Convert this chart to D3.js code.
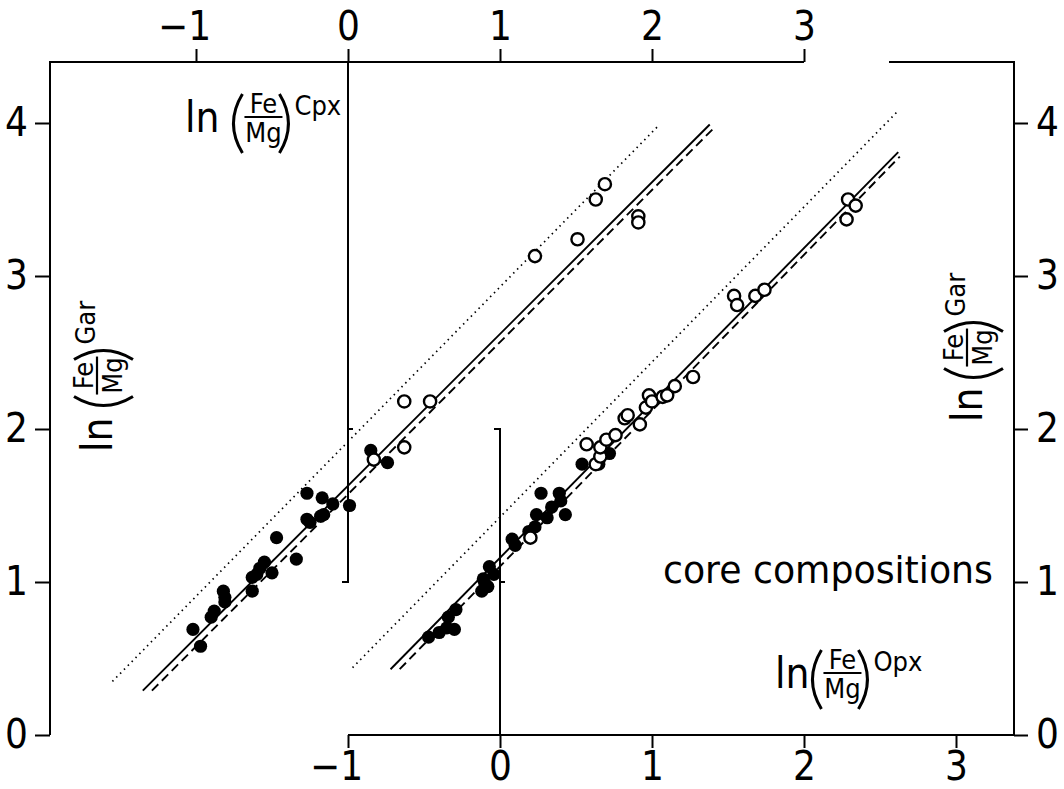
<!DOCTYPE html>
<html>
<head>
<meta charset="utf-8">
<script src="https://cdn.jsdelivr.net/npm/d3@7.9.0/dist/d3.min.js"></script>
<style>
  body { margin: 0; background: #fff; }
  svg { display: block; }
  text { font-family: "DejaVu Sans Condensed", "Liberation Sans Narrow", "DejaVu Sans", sans-serif; fill: #000; }
</style>
</head>
<body>
<svg id="chart" width="1064" height="789"></svg>
<script>
const yTicks = [0, 1, 2, 3, 4];
const cpxTicks = [-1, 0, 1, 2, 3];
const opxTicks = [-1, 0, 1, 2, 3];

// Cpx-garnet pairs (x read on the top axis)
const cpxFilled = [[-0.27,1.58],[-0.17,1.55],[-0.10,1.51],[0.01,1.50],[-0.27,1.41],[-0.25,1.39],[-0.18,1.43],
  [-0.16,1.44],[-0.47,1.29],[-0.34,1.15],[-0.55,1.13],[-0.58,1.09],[-0.60,1.05],[-0.63,1.03],[-0.50,1.06],
  [-0.63,0.94],[-0.82,0.94],[-0.81,0.90],[-0.81,0.87],[-0.88,0.81],[-0.90,0.77],[-1.02,0.69],[-0.97,0.58],
  [0.15,1.86],[0.26,1.78]];
const cpxOpen = [[0.17,1.80],[0.37,2.18],[0.54,2.18],[0.37,1.88],[1.23,3.13],[1.51,3.24],[1.63,3.50],
  [1.69,3.60],[1.91,3.39],[1.91,3.35]];

// Opx-garnet pairs (x read on the bottom axis)
const opxFilled = [[0.27,1.58],[0.39,1.58],[0.40,1.53],[0.34,1.49],[0.24,1.44],[0.31,1.42],[0.43,1.44],
  [0.23,1.36],[0.19,1.33],[0.08,1.28],[0.10,1.24],[-0.07,1.10],[-0.04,1.05],[-0.11,1.02],[-0.10,0.99],
  [-0.08,0.97],[-0.12,0.94],[-0.29,0.82],[-0.34,0.77],[-0.35,0.70],[-0.30,0.69],[-0.40,0.67],[-0.47,0.64],
  [0.54,1.77],[0.65,1.77],[0.72,1.84]];
const opxOpen = [[0.20,1.29],[0.63,1.77],[0.66,1.82],[0.57,1.90],[0.66,1.88],[0.70,1.93],[0.76,1.96],
  [0.82,2.07],[0.84,2.09],[0.92,2.03],[0.96,2.14],[0.98,2.22],[1.00,2.18],[1.07,2.21],[1.10,2.22],
  [1.15,2.28],[1.27,2.34],[1.54,2.87],[1.56,2.81],[1.68,2.87],[1.74,2.91],[2.29,3.50],[2.34,3.46],[2.28,3.37]];

// fitted lines, start and end points
const cpxDotted = [[-1.55,0.35],[2.05,3.99]];
const cpxSolid = [[-1.35,0.29],[2.38,3.99]];
const cpxDashed = [[-1.29,0.29],[2.42,3.98]];
const opxDotted = [[-0.97,0.44],[2.61,4.07]];
const opxSolid = [[-0.72,0.43],[2.62,3.81]];
const opxDashed = [[-0.66,0.43],[2.63,3.78]];

const svg = d3.select('#chart');
const leftX = 50, rightX = 1014, topY = 62, bottomY = 735;

const y = d3.scaleLinear().domain([0, 4]).range([735, 123]);
const xCpx = d3.scaleLinear().domain([-1, 3]).range([196, 804]);
const xOpx = d3.scaleLinear().domain([-1, 3]).range([348, 956]);

const frame = svg.append('g').attr('stroke', '#000').attr('stroke-width', 2).attr('fill', 'none');
// outer frame pieces
frame.append('path').attr('d', `M${leftX},${bottomY} V${topY} H${xCpx(3)}`);
frame.append('path').attr('d', `M889,${topY} H${rightX} V${bottomY} H${xOpx(-1)}`);
// inner zero lines
frame.append('path').attr('d', `M${xCpx(0)},${topY} V${y(1)} h-6 M${xCpx(0)},${y(2)} h5`);
frame.append('path').attr('d', `M${xOpx(0)},${bottomY} V${y(2)} h-6 M${xOpx(0)},${y(1)} h5`);

const fmt = d3.format('d');
function styleAxis(g) {
  g.select('.domain').remove();
  g.selectAll('.tick line').attr('stroke', '#000').attr('stroke-width', 2);
  g.selectAll('.tick text').attr('font-size', 40).attr('fill', '#000');
  g.selectAll('.tick text').filter(d => d < 0).attr('dx', '-0.3em');
}

svg.append('g').attr('transform', `translate(0,${topY})`)
  .call(d3.axisTop(xCpx).tickValues(cpxTicks).tickFormat(fmt).tickSize(13).tickPadding(9))
  .call(styleAxis);
svg.append('g').attr('transform', `translate(0,${bottomY})`)
  .call(d3.axisBottom(xOpx).tickValues(opxTicks).tickFormat(fmt).tickSize(13).tickPadding(8))
  .call(styleAxis)
  .selectAll('.tick text').attr('y', 45).attr('dy', 0);
svg.append('g').attr('transform', `translate(${leftX},0)`)
  .call(d3.axisLeft(y).tickValues(yTicks).tickFormat(fmt).tickSize(15).tickPadding(7))
  .call(styleAxis);
svg.append('g').attr('transform', `translate(${rightX},0)`)
  .call(d3.axisRight(y).tickValues(yTicks).tickFormat(fmt).tickSize(14).tickPadding(8))
  .call(styleAxis);

// regression lines
function drawLine(pts, xs, dash, w) {
  svg.append('path')
    .datum(pts)
    .attr('d', d3.line().x(d => xs(d[0])).y(d => y(d[1])))
    .attr('fill', 'none').attr('stroke', '#000')
    .attr('stroke-width', w)
    .attr('stroke-dasharray', dash);
}
drawLine(cpxDotted, xCpx, '1.5,4', 1.7);
drawLine(cpxSolid, xCpx, null, 1.9);
drawLine(cpxDashed, xCpx, '9,5', 1.9);
drawLine(opxDotted, xOpx, '1.5,4', 1.7);
drawLine(opxSolid, xOpx, null, 1.9);
drawLine(opxDashed, xOpx, '9,5', 1.9);

// points
function drawPoints(pts, xs, open) {
  svg.append('g').selectAll('circle')
    .data(pts)
    .join('circle')
    .attr('cx', d => xs(d[0]))
    .attr('cy', d => y(d[1]))
    .attr('r', open ? 6.1 : 6.6)
    .attr('fill', open ? '#fff' : '#000')
    .attr('stroke', '#000')
    .attr('stroke-width', open ? 2.4 : 0);
}
drawPoints(cpxFilled, xCpx, false);
drawPoints(opxFilled, xOpx, false);
drawPoints(cpxOpen, xCpx, true);
drawPoints(opxOpen, xOpx, true);

// ln(Fe/Mg)^phase labels
function lnLabel(transform, sup, gap) {
  const g = svg.append('g').attr('transform', transform);
  const ln = g.append('text').attr('font-size', 42).text('ln');
  const p = ln.node().getComputedTextLength() + gap;
  g.append('path')
    .attr('d', `M${p + 9},-38 Q${p - 9},-8.5 ${p + 9},21`)
    .attr('fill', 'none').attr('stroke', '#000').attr('stroke-width', 3);
  g.append('text').attr('x', p + 30).attr('y', -19).attr('font-size', 27)
    .attr('text-anchor', 'middle').text('Fe');
  g.append('line').attr('x1', p + 11).attr('x2', p + 49).attr('y1', -15).attr('y2', -15)
    .attr('stroke', '#000').attr('stroke-width', 2.2);
  g.append('text').attr('x', p + 30).attr('y', 10).attr('font-size', 27)
    .attr('text-anchor', 'middle').text('Mg');
  g.append('path')
    .attr('d', `M${p + 46},-38 Q${p + 64},-8.5 ${p + 46},21`)
    .attr('fill', 'none').attr('stroke', '#000').attr('stroke-width', 3);
  g.append('text').attr('x', p + 61).attr('y', -17).attr('font-size', 27).text(sup);
}
lnLabel('translate(185,132)', 'Cpx', 14);
lnLabel('translate(775,688)', 'Opx', 3);
lnLabel('translate(112,452) rotate(-90)', 'Gar', 12);
lnLabel('translate(982,422) rotate(-90)', 'Gar', 10);

svg.append('text').attr('x', 663).attr('y', 583).attr('font-size', 38)
  .attr('textLength', 330).attr('lengthAdjust', 'spacingAndGlyphs')
  .text('core compositions');
</script>
</body>
</html>
